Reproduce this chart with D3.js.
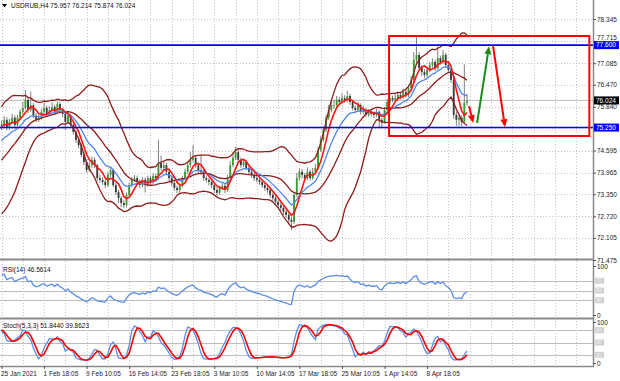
<!DOCTYPE html>
<html>
<head>
<meta charset="utf-8">
<script src="https://cdn.jsdelivr.net/npm/d3@7"></script>
<style>
  body { margin: 0; background: #fff; }
  svg { display: block; }
</style>
</head>
<body>
<svg width="620" height="381"></svg>
<script>
// ---- data (H4 bars, the first `warmup` bars sit left of the visible window) ----
var warmup = 25;

var opens = [
  73.46,73.50,73.44,73.52,73.40,73.47,73.38,73.45,73.52,73.42,73.48,73.55,73.47,73.58,73.70,73.85,74.05,74.30,74.55,74.78,75.00,75.15,75.28,75.20,75.35,
  75.30,
  75.32,75.47,75.24,75.41,75.53,75.32,75.53,75.70,75.81,76.04,
  75.75,75.89,75.59,75.47,75.53,75.70,75.81,75.64,75.75,75.84,
  75.70,75.92,75.75,75.64,75.41,75.59,75.32,75.13,74.90,74.75,
  74.47,74.27,74.04,74.18,74.33,74.18,73.81,73.76,73.70,73.61,
  73.90,74.04,73.61,73.41,73.24,73.10,73.04,73.33,73.61,73.76,
  73.81,73.70,73.61,73.76,73.61,73.81,73.70,73.87,73.81,74.24,
  74.10,74.18,73.99,73.81,73.67,73.53,73.47,73.59,73.81,73.99,
  74.18,74.33,74.39,74.18,74.04,73.99,73.81,73.76,73.70,73.61,
  73.47,73.39,73.53,73.59,73.47,73.81,74.18,74.39,74.55,74.33,
  74.18,74.27,74.10,73.99,73.90,73.81,73.76,73.70,73.61,73.53,
  73.47,73.33,73.24,73.13,73.04,72.96,72.85,72.76,72.62,72.56,
  73.33,73.81,73.99,73.90,73.81,73.99,73.81,73.99,74.10,74.61,
  74.90,75.18,75.53,75.75,75.89,75.89,76.04,75.98,76.09,76.04,
  76.15,75.98,75.81,75.75,75.89,75.70,75.75,75.61,75.70,75.64,
  75.61,75.70,75.47,75.41,75.75,75.98,76.09,76.04,76.09,76.18,
  76.12,76.27,76.18,76.38,76.61,77.18,77.32,76.95,76.83,76.75,
  76.89,77.03,77.12,76.95,77.23,77.12,77.32,77.03,76.89,76.61,
  75.61,75.47,75.53,75.41,75.96
];
var highs = [
  73.56,73.55,73.60,73.57,73.54,73.52,73.52,73.60,73.57,73.55,73.62,73.60,73.65,73.78,73.93,74.14,74.40,74.63,74.88,75.10,75.24,75.38,75.34,75.45,75.42,
  75.45,75.58,75.55,75.50,75.64,75.60,75.61,75.78,75.98,76.32,
  76.12,76.27,75.95,75.66,75.62,75.79,75.96,75.88,75.86,75.97,
  75.90,76.00,75.98,75.82,75.70,75.68,75.64,75.40,75.18,74.98,
  74.80,74.55,74.33,74.27,74.42,74.40,74.22,73.90,73.84,73.78,
  73.98,74.14,74.08,73.67,73.48,73.30,73.18,73.40,73.68,73.84,
  73.90,73.88,73.77,73.84,73.82,73.88,73.88,73.95,73.94,74.90,
  74.45,74.27,74.24,74.05,73.88,73.74,73.60,73.66,73.88,74.08,
  74.28,74.55,74.75,74.46,74.25,74.47,74.06,73.88,73.82,73.78,
  73.68,73.55,73.60,73.68,73.65,73.90,74.30,74.55,74.70,74.62,
  74.40,74.36,74.33,74.16,74.06,73.97,73.90,73.83,73.76,73.68,
  73.60,73.52,73.40,73.30,73.20,73.12,73.02,72.92,72.82,72.70,
  73.40,73.95,74.08,74.07,73.96,74.12,74.05,74.10,74.22,74.70,
  75.00,75.28,75.62,75.90,76.02,76.05,76.15,76.12,76.22,76.17,
  76.30,76.22,76.04,75.88,75.98,75.94,75.86,75.80,75.78,75.76,
  75.70,75.78,75.74,75.52,75.84,76.06,76.18,76.16,76.20,76.27,
  76.26,76.36,76.32,76.46,76.72,77.40,77.85,77.40,77.02,76.92,
  76.98,77.12,77.22,77.18,77.57,77.30,77.46,77.38,77.10,76.95,
  76.68,75.70,75.62,75.60,77.05,76.21
];
var lows = [
  73.40,73.38,73.40,73.34,73.35,73.31,73.33,73.40,73.36,73.37,73.43,73.40,73.42,73.52,73.64,73.80,74.00,74.24,74.48,74.70,74.92,75.08,75.12,75.14,75.22,
  75.18,75.25,75.17,75.19,75.36,75.22,75.28,75.47,75.63,75.76,
  75.66,75.70,75.52,75.40,75.41,75.48,75.64,75.57,75.58,75.69,
  75.62,75.65,75.68,75.55,75.18,75.35,75.25,75.05,74.82,74.66,
  74.40,74.18,73.96,73.98,74.10,74.10,73.74,73.68,73.62,73.52,
  73.56,73.84,73.55,73.33,73.10,72.98,72.96,72.98,73.28,73.55,
  73.70,73.62,73.52,73.55,73.40,73.56,73.62,73.64,73.74,73.76,
  74.02,74.02,73.92,73.72,73.58,73.45,73.38,73.40,73.54,73.75,
  73.93,74.12,74.26,74.10,73.96,73.90,73.73,73.68,73.60,73.52,
  73.38,73.30,73.33,73.46,73.38,73.42,73.75,74.12,74.33,74.25,
  74.10,74.12,74.03,73.92,73.82,73.73,73.68,73.62,73.53,73.45,
  73.39,73.25,73.15,73.05,72.96,72.88,72.76,72.67,72.50,72.33,
  72.50,73.28,73.74,73.80,73.72,73.76,73.74,73.76,73.93,74.05,
  74.55,74.84,75.12,75.47,75.68,75.78,75.82,75.90,75.92,75.96,
  75.98,75.90,75.74,75.66,75.70,75.62,75.64,75.54,75.55,75.56,
  75.52,75.55,75.26,75.24,75.36,75.70,75.92,75.97,75.98,76.02,
  76.05,76.06,76.10,76.12,76.32,76.55,77.10,76.88,76.72,76.66,
  76.68,76.82,76.96,76.86,76.90,77.04,77.06,76.96,76.80,76.52,
  75.50,75.30,75.28,75.28,75.36,75.87
];
var closes = [
  73.50,73.44,73.52,73.40,73.47,73.38,73.45,73.52,73.42,73.48,73.55,73.47,73.58,73.70,73.85,74.05,74.30,74.55,74.78,75.00,75.15,75.28,75.20,75.35,75.30,
  75.32,75.47,75.24,75.41,75.53,75.32,75.53,75.70,75.81,76.04,
  75.75,75.89,75.59,75.47,75.53,75.70,75.81,75.64,75.75,75.84,
  75.70,75.92,75.75,75.64,75.41,75.59,75.32,75.13,74.90,74.75,
  74.47,74.27,74.04,74.18,74.33,74.18,73.81,73.76,73.70,73.61,
  73.90,74.04,73.61,73.41,73.24,73.10,73.04,73.33,73.61,73.76,
  73.81,73.70,73.61,73.76,73.61,73.81,73.70,73.87,73.81,74.24,
  74.10,74.18,73.99,73.81,73.67,73.53,73.47,73.59,73.81,73.99,
  74.18,74.33,74.39,74.18,74.04,73.99,73.81,73.76,73.70,73.61,
  73.47,73.39,73.53,73.59,73.47,73.81,74.18,74.39,74.55,74.33,
  74.18,74.27,74.10,73.99,73.90,73.81,73.76,73.70,73.61,73.53,
  73.47,73.33,73.24,73.13,73.04,72.96,72.85,72.76,72.62,72.56,
  73.33,73.81,73.99,73.90,73.81,73.99,73.81,73.99,74.10,74.61,
  74.90,75.18,75.53,75.75,75.89,75.89,76.04,75.98,76.09,76.04,
  76.15,75.98,75.81,75.75,75.89,75.70,75.75,75.61,75.70,75.64,
  75.61,75.70,75.47,75.41,75.75,75.98,76.09,76.04,76.09,76.18,
  76.12,76.27,76.18,76.38,76.61,77.18,77.32,76.95,76.83,76.75,
  76.89,77.03,77.12,76.95,77.23,77.12,77.32,77.03,76.89,76.61,
  75.61,75.47,75.53,75.41,75.96,76.02
];

var dateLabels = ["25 Jan 2021", "1 Feb 18:05", "9 Feb 10:05", "16 Feb 14:05", "23 Feb 18:05",
  "3 Mar 10:05", "10 Mar 14:05", "17 Mar 18:05", "25 Mar 10:05", "1 Apr 14:05", "8 Apr 18:05"];
var dateLabelBars = [0, 16, 32, 48, 64, 80, 96, 112, 128, 144, 160];
var priceTicks = [78.345, 77.715, 77.085, 76.470, 75.840, 75.225, 74.595, 73.965, 73.350, 72.720, 72.105, 71.475];
var levelPrices = [77.600, 75.250];
var lastPrice = 76.024;
var rsiLevels = [70, 50, 30];
var stochLevels = [80, 50, 20];
var titleText = "USDRUB,H4 75.957 76.214 75.874 76.024";
var rsiText = "RSI(14) 46.5614";
var stochText = "Stoch(5,3,3) 51.8440 39.8623";

// hand-drawn annotations, in (bar, price)
var boxBars = [145.7, 221], boxPrices = [77.86, 75.01];
var arrowFrom = [[178.8, 75.38], [175.8, 75.86], [184.8, 77.57]];
var arrowTo   = [[183.3, 77.57], [177.3, 75.38], [189.3, 75.26]];
var arrowColors = ["#1b8a1b", "#ff0000", "#ff0000"];

// ---- layout ----
var svg = d3.select("svg"),
  right = 593,
  mainBottom = 258,
  rsiTop = 261, rsiBottom = 317,
  stoTop = 320, stoBottom = 366;
var font = "'Liberation Sans', Arial, sans-serif";
var nBars = closes.length - warmup;

var x = d3.scaleLinear().domain([0, 1]).range([1.5, 4.16]);
var y = d3.scaleLinear().domain([71.475, 78.345]).range([260, 19]);
var yRsi = d3.scaleLinear().domain([0, 100]).range([315, 266]);
var ySto = d3.scaleLinear().domain([0, 100]).range([363, 322]);

// ---- indicators ----
function sma(a, n) {
  return a.map(function(d, i) { return i < n - 1 ? null : d3.mean(a.slice(i - n + 1, i + 1)); });
}
function ema(a, n) {
  var k = 2 / (n + 1), prev = a[0];
  return a.map(function(d, i) { prev = i === 0 ? d : d * k + prev * (1 - k); return prev; });
}
function stdev(a, n) {
  return a.map(function(d, i) {
    if (i < n - 1) return null;
    var w = a.slice(i - n + 1, i + 1), m = d3.mean(w);
    return Math.sqrt(d3.mean(w, function(v) { return (v - m) * (v - m); }));
  });
}
function rsi(a, n) {
  var out = a.map(function() { return null; }), ag = 0, al = 0;
  for (var i = 1; i < a.length; i++) {
    var ch = a[i] - a[i - 1], g = Math.max(ch, 0), l = Math.max(-ch, 0);
    if (i <= n) { ag += g / n; al += l / n; }
    else { ag = (ag * (n - 1) + g) / n; al = (al * (n - 1) + l) / n; }
    if (i >= n) out[i] = al === 0 ? 100 : 100 - 100 / (1 + ag / al);
  }
  return out;
}
function stoch(kp, slow, dp) {
  var num = [], den = [], k = [], d = [], i;
  for (i = 0; i < closes.length; i++) {
    if (i < kp - 1) { num.push(null); den.push(null); continue; }
    var ll = d3.min(lows.slice(i - kp + 1, i + 1)), hh = d3.max(highs.slice(i - kp + 1, i + 1));
    num.push(closes[i] - ll); den.push(hh - ll);
  }
  for (i = 0; i < closes.length; i++) {
    if (i < kp + slow - 2) { k.push(null); continue; }
    var sn = d3.sum(num.slice(i - slow + 1, i + 1)), sd = d3.sum(den.slice(i - slow + 1, i + 1));
    k.push(sd === 0 ? 100 : 100 * sn / sd);
  }
  for (i = 0; i < closes.length; i++)
    d.push(i < kp + slow + dp - 3 ? null : d3.mean(k.slice(i - dp + 1, i + 1)));
  return [k, d];
}

// bollinger (20,2): lower, middle, upper
var mid = sma(closes, 20), sd = stdev(closes, 20);
var bands = [-2, 0, 2].map(function(m) {
  return mid.map(function(v, i) { return v == null ? null : v + m * sd[i]; });
});
var fastMa = sma(closes, 5);
var slowMa = ema(closes, 12);
var rsiLine = rsi(closes, 14);
var st = stoch(5, 3, 3);

function visible(series) {
  return d3.range(nBars).map(function(i) { return [i, series[i + warmup]]; });
}
function lineFor(scale) {
  return d3.line().defined(function(d) { return d[1] != null; })
    .x(function(d) { return x(d[0]); })
    .y(function(d) { return scale(d[1]); });
}

// ---- clip paths ----
var defs = svg.append("defs");
[["clipMain", 0, mainBottom], ["clipRsi", rsiTop, rsiBottom], ["clipSto", stoTop, stoBottom]].forEach(function(c) {
  defs.append("clipPath").attr("id", c[0]).append("rect")
    .attr("x", 0).attr("y", c[1]).attr("width", right).attr("height", c[2] - c[1]);
});

// ---- grid ----
var grid = svg.append("g").attr("stroke", "#c4c4c4").attr("stroke-width", 1).attr("stroke-dasharray", "1,2");
grid.selectAll(".v").data(d3.range(0, 230, 8).filter(function(i) { return x(i) < right - 2; }))
  .enter().append("line")
  .attr("x1", function(d) { return Math.round(x(d)) + 0.5; })
  .attr("x2", function(d) { return Math.round(x(d)) + 0.5; })
  .attr("y1", 0).attr("y2", stoBottom);
grid.selectAll(".h").data(priceTicks.filter(function(p) { return y(p) < mainBottom - 2; }))
  .enter().append("line")
  .attr("x1", 0).attr("x2", right)
  .attr("y1", function(d) { return Math.round(y(d)) + 0.5; })
  .attr("y2", function(d) { return Math.round(y(d)) + 0.5; });

// indicator levels
svg.append("g").selectAll("line").data(rsiLevels).enter().append("line")
  .attr("x1", 0).attr("x2", right)
  .attr("y1", function(d) { return Math.round(yRsi(d)) + 0.5; })
  .attr("y2", function(d) { return Math.round(yRsi(d)) + 0.5; })
  .attr("stroke", "#bdbdbd");
svg.append("g").selectAll("line").data(stochLevels).enter().append("line")
  .attr("x1", 0).attr("x2", right)
  .attr("y1", function(d) { return Math.round(ySto(d)) + 0.5; })
  .attr("y2", function(d) { return Math.round(ySto(d)) + 0.5; })
  .attr("stroke", "#bdbdbd");

// ---- main panel ----
var gMain = svg.append("g").attr("clip-path", "url(#clipMain)");

gMain.append("line")
  .attr("x1", 0).attr("x2", right)
  .attr("y1", y(lastPrice)).attr("y2", y(lastPrice))
  .attr("stroke", "#bcbcbc");

// candles
var bars = d3.range(nBars).map(function(i) {
  var k = i + warmup;
  return { i: i, o: opens[k], h: highs[k], l: lows[k], c: closes[k] };
});
gMain.selectAll(".wick").data(bars).enter().append("line")
  .attr("x1", function(d) { return x(d.i); })
  .attr("x2", function(d) { return x(d.i); })
  .attr("y1", function(d) { return y(d.h); })
  .attr("y2", function(d) { return y(d.l); })
  .attr("stroke", "#5e5e5e").attr("stroke-width", 0.8);
gMain.selectAll(".body").data(bars).enter().append("rect")
  .attr("x", function(d) { return x(d.i) - 0.9; })
  .attr("width", 1.8)
  .attr("y", function(d) { return y(Math.max(d.o, d.c)); })
  .attr("height", function(d) { return Math.max(0.8, Math.abs(y(d.o) - y(d.c))); })
  .attr("fill", function(d) { return d.c >= d.o ? "#3b9a2e" : "#383838"; });

// bands and moving averages
bands.forEach(function(b) {
  gMain.append("path").datum(visible(b))
    .attr("d", lineFor(y))
    .attr("fill", "none").attr("stroke", "#8e1c1c").attr("stroke-width", 1.3);
});
gMain.append("path").datum(visible(slowMa))
  .attr("d", lineFor(y)).attr("fill", "none").attr("stroke", "#4f86ec").attr("stroke-width", 1.3);
gMain.append("path").datum(visible(fastMa))
  .attr("d", lineFor(y)).attr("fill", "none").attr("stroke", "#ff1414").attr("stroke-width", 1.6);

// horizontal levels
gMain.selectAll(".lvl").data(levelPrices).enter().append("line")
  .attr("x1", 0).attr("x2", right)
  .attr("y1", function(d) { return y(d); })
  .attr("y2", function(d) { return y(d); })
  .attr("stroke", "#0000ff").attr("stroke-width", 1.6);

// annotation box and arrows
gMain.append("rect")
  .attr("x", x(boxBars[0])).attr("y", y(boxPrices[0]))
  .attr("width", x(boxBars[1]) - x(boxBars[0]))
  .attr("height", y(boxPrices[1]) - y(boxPrices[0]))
  .attr("fill", "none").attr("stroke", "#ff0000").attr("stroke-width", 2);

arrowFrom.forEach(function(f, i) {
  var x1 = x(f[0]), y1 = y(f[1]), x2 = x(arrowTo[i][0]), y2 = y(arrowTo[i][1]);
  var a = Math.atan2(y2 - y1, x2 - x1), len = 8, hw = 3.5;
  var bx = x2 - len * Math.cos(a), by = y2 - len * Math.sin(a);
  gMain.append("line")
    .attr("x1", x1).attr("y1", y1).attr("x2", bx).attr("y2", by)
    .attr("stroke", arrowColors[i]).attr("stroke-width", 2);
  gMain.append("polygon")
    .attr("points", [[x2, y2],
      [bx + hw * Math.sin(a), by - hw * Math.cos(a)],
      [bx - hw * Math.sin(a), by + hw * Math.cos(a)]].join(" "))
    .attr("fill", arrowColors[i]);
});

// ---- RSI panel ----
svg.append("g").attr("clip-path", "url(#clipRsi)").append("path")
  .datum(visible(rsiLine))
  .attr("d", lineFor(yRsi))
  .attr("fill", "none").attr("stroke", "#5a8de8").attr("stroke-width", 1.3);

// ---- Stochastic panel ----
var gSto = svg.append("g").attr("clip-path", "url(#clipSto)");
gSto.append("path").datum(visible(st[0]))
  .attr("d", lineFor(ySto)).attr("fill", "none").attr("stroke", "#5a8de8").attr("stroke-width", 1.3);
gSto.append("path").datum(visible(st[1]))
  .attr("d", lineFor(ySto)).attr("fill", "none").attr("stroke", "#ff0000").attr("stroke-width", 1.6);

// ---- frame ----
var frame = svg.append("g").attr("stroke", "#8a8a8a");
frame.append("line").attr("x1", 0).attr("x2", right).attr("y1", 259.5).attr("y2", 259.5).attr("stroke-width", 2);
frame.append("line").attr("x1", 0).attr("x2", right).attr("y1", 318.5).attr("y2", 318.5).attr("stroke-width", 2);
frame.append("line").attr("x1", 0).attr("x2", right + 1).attr("y1", stoBottom + 0.5).attr("y2", stoBottom + 0.5).attr("stroke-width", 1.5);
frame.append("line").attr("x1", right + 0.5).attr("x2", right + 0.5).attr("y1", 0).attr("y2", stoBottom + 1).attr("stroke-width", 1.5);

// ---- axes ----
function styleAxis(g) {
  g.select(".domain").remove();
  g.selectAll("line").attr("stroke", "#555");
  g.selectAll("text").attr("font-size", 6.5).attr("font-family", font).attr("fill", "#222");
}
svg.append("g").attr("transform", "translate(" + right + ",0)")
  .call(d3.axisRight(y).tickValues(priceTicks).tickFormat(d3.format(".3f")).tickSize(3).tickPadding(1))
  .call(styleAxis)
  .selectAll("text").filter(function(d) { return d === 77.715; }).attr("y", -3.5);
svg.append("g").attr("transform", "translate(" + right + ",0)")
  .call(d3.axisRight(yRsi).tickValues([0, 100]).tickSize(3).tickPadding(1))
  .call(styleAxis);
svg.append("g").attr("transform", "translate(" + right + ",0)")
  .call(d3.axisRight(ySto).tickValues([0, 100]).tickSize(3).tickPadding(1))
  .call(styleAxis);
svg.append("g").attr("transform", "translate(0," + stoBottom + ")")
  .call(d3.axisBottom(x).tickValues(dateLabelBars).tickFormat(function(d, i) { return dateLabels[i]; })
    .tickSize(3).tickPadding(2))
  .call(styleAxis)
  .selectAll("text").attr("text-anchor", "start").attr("dx", -1);

// level tags on the right
function tag(yy, label, fill, w) {
  svg.append("rect").attr("x", right + 1).attr("y", yy - 4).attr("width", w).attr("height", 8).attr("fill", fill);
  svg.append("text").attr("x", right + 3).attr("y", yy).attr("dy", "0.35em")
    .attr("font-size", 6.5).attr("font-family", font).attr("fill", "#fff").text(label);
}
levelPrices.forEach(function(p) { tag(y(p), d3.format(".3f")(p), "#0000ff", 25); });
tag(y(lastPrice), d3.format(".3f")(lastPrice), "#000", 25);

function smallTag(yy, label) {
  svg.append("rect").attr("x", right + 2).attr("y", yy - 3).attr("width", 9).attr("height", 6).attr("fill", "#cfcfcf");
  svg.append("text").attr("x", right + 3).attr("y", yy).attr("dy", "0.35em")
    .attr("font-size", 5).attr("font-family", font).attr("fill", "#f4f4f4").text(label);
}
rsiLevels.forEach(function(v) { smallTag(yRsi(v), v); });
stochLevels.forEach(function(v) { smallTag(ySto(v), v); });

// ---- titles ----
svg.append("polygon").attr("points", "2,4 7,4 4.5,7.5").attr("fill", "#000");
svg.append("text").attr("x", 11).attr("y", 7.5)
  .attr("font-size", 6.5).attr("font-family", font).attr("fill", "#111").text(titleText);
svg.append("text").attr("x", 3).attr("y", 272)
  .attr("font-size", 6.5).attr("font-family", font).attr("fill", "#111").text(rsiText);
svg.append("text").attr("x", 3).attr("y", 328)
  .attr("font-size", 6.5).attr("font-family", font).attr("fill", "#111").text(stochText);
</script>
</body>
</html>
